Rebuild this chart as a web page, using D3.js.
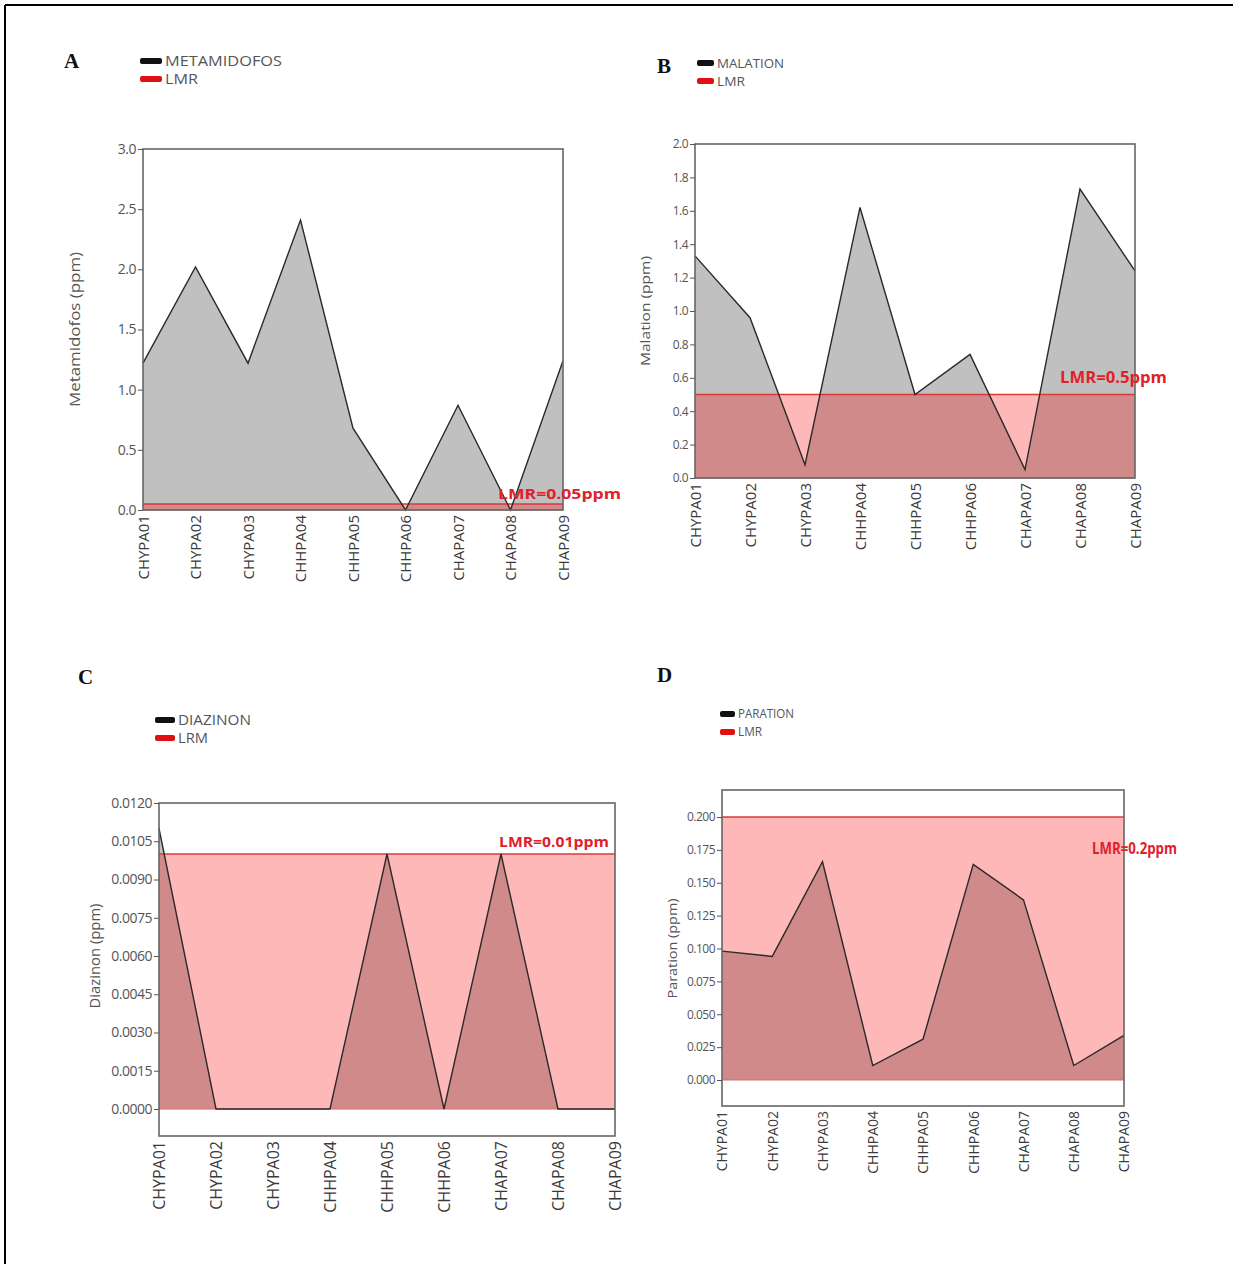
<!DOCTYPE html>
<html>
<head>
<meta charset="utf-8">
<script src="https://cdn.jsdelivr.net/npm/d3@7"></script>
<style>
  body { margin: 0; background: #fff; }
  svg { display: block; }
  .tick text { font-family: "Open Sans", sans-serif; }
  .tick line { stroke: #555; }
</style>
</head>
<body>
<script>
// Data
var categories = ["CHYPA01", "CHYPA02", "CHYPA03", "CHHPA04", "CHHPA05",
                  "CHHPA06", "CHAPA07", "CHAPA08", "CHAPA09"];

var metamidofos = [1.22, 2.02, 1.22, 2.41, 0.68, 0.0, 0.87, 0.0, 1.24];
var malation    = [1.33, 0.96, 0.08, 1.62, 0.50, 0.74, 0.05, 1.73, 1.24];
var diazinon    = [0.011, 0, 0, 0, 0.010, 0, 0.010, 0, 0];
var paration    = [0.098, 0.094, 0.166, 0.011, 0.031, 0.164, 0.137, 0.011, 0.034];

var lmrValues = [0.05, 0.5, 0.01, 0.2];
var lmrLabels = ["LMR=0.05ppm", "LMR=0.5ppm", "LMR=0.01ppm", "LMR=0.2ppm"];

var ticksA = [0, 0.5, 1.0, 1.5, 2.0, 2.5, 3.0];
var ticksB = [0, 0.2, 0.4, 0.6, 0.8, 1.0, 1.2, 1.4, 1.6, 1.8, 2.0];
var ticksC = [0, 0.0015, 0.003, 0.0045, 0.006, 0.0075, 0.009, 0.0105, 0.012];
var ticksD = [0, 0.025, 0.05, 0.075, 0.1, 0.125, 0.15, 0.175, 0.2];

var W = 1233, H = 1264;
var svg = d3.select("body").append("svg").attr("width", W).attr("height", H);

// outer frame
svg.append("line").attr("x1", 5).attr("y1", 5).attr("x2", W).attr("y2", 5)
  .attr("stroke", "#000").attr("stroke-width", 2);
svg.append("line").attr("x1", 5).attr("y1", 5).attr("x2", 5).attr("y2", H)
  .attr("stroke", "#000").attr("stroke-width", 2);

var panels = [
  { letter: "A", lx: 64, ly: 68,
    legend: ["METAMIDOFOS", "LMR"], legLen: [117, 33], legX: 140, legY: 61, legW: 22, legGap: 18, legFont: 15,
    values: metamidofos, lmr: lmrValues[0], lmrText: lmrLabels[0],
    ticks: ticksA, fmt: ".1f", tickFont: 14,
    x0: 143, x1: 563, yTop: 149, yZero: 510, boxTop: 149, boxBottom: 510,
    dom: [0, 3],
    title: "Metamidofos (ppm)", titleLen: 155, titleX: 80, titleFont: 14,
    lmrX: 621, lmrY: 499, lmrFont: 15, lmrW: 123,
    xFont: 15 },
  { letter: "B", lx: 657, ly: 73,
    legend: ["MALATION", "LMR"], legLen: [67, 28], legX: 697, legY: 63, legW: 17, legGap: 18, legFont: 13,
    values: malation, lmr: lmrValues[1], lmrText: lmrLabels[1],
    ticks: ticksB, fmt: ".1f", tickFont: 12,
    x0: 695, x1: 1135, yTop: 144, yZero: 478, boxTop: 144, boxBottom: 478,
    dom: [0, 2],
    title: "Malation (ppm)", titleLen: 110, titleX: 650, titleFont: 12,
    lmrX: 1167, lmrY: 383, lmrFont: 16, lmrW: 107,
    xFont: 15 },
  { letter: "C", lx: 78, ly: 684,
    legend: ["DIAZINON", "LRM"], legLen: [73, 30], legX: 155, legY: 720, legW: 20, legGap: 18, legFont: 14,
    values: diazinon, lmr: lmrValues[2], lmrText: lmrLabels[2],
    ticks: ticksC, fmt: ".4f", tickFont: 14,
    x0: 159, x1: 615, yTop: 803, yZero: 1109, boxTop: 803, boxBottom: 1136,
    dom: [0, 0.012],
    title: "Diazinon (ppm)", titleLen: 105, titleX: 100, titleFont: 14,
    lmrX: 609, lmrY: 847, lmrFont: 14, lmrW: 110,
    xFont: 16 },
  { letter: "D", lx: 657, ly: 682,
    legend: ["PARATION", "LMR"], legLen: [56, 24], legX: 720, legY: 714, legW: 15, legGap: 18, legFont: 12,
    values: paration, lmr: lmrValues[3], lmrText: lmrLabels[3],
    ticks: ticksD, fmt: ".3f", tickFont: 12,
    x0: 722, x1: 1124, yTop: 817, yZero: 1080, boxTop: 790, boxBottom: 1106,
    dom: [0, 0.2],
    title: "Paration (ppm)", titleLen: 100, titleX: 677, titleFont: 12,
    lmrX: 1177, lmrY: 854, lmrFont: 16, lmrW: 85,
    xFont: 14 }
];

panels.forEach(function(p) {
  var g = svg.append("g");

  var x = d3.scalePoint().domain(categories).range([p.x0, p.x1]);
  var y = d3.scaleLinear().domain(p.dom).range([p.yZero, p.yTop]);

  // panel letter
  g.append("text").attr("x", p.lx).attr("y", p.ly)
    .attr("font-family", "Liberation Serif, serif").attr("font-size", 21)
    .attr("font-weight", "bold").attr("fill", "#111").text(p.letter);

  // legend
  var legColors = ["#111", "#e01010"];
  p.legend.forEach(function(name, i) {
    var yy = p.legY + i * p.legGap;
    g.append("rect").attr("x", p.legX).attr("y", yy - 3).attr("width", p.legW).attr("height", 6)
      .attr("rx", 2).attr("fill", legColors[i]);
    g.append("text").attr("x", p.legX + p.legW + 3).attr("y", yy)
      .attr("dy", "0.36em").attr("font-family", "Open Sans, sans-serif")
      .attr("font-size", p.legFont).attr("fill", "#555")
      .attr("textLength", p.legLen[i]).attr("lengthAdjust", "spacingAndGlyphs")
      .text(name);
  });

  var data = p.values.map(function(v, i) { return { c: categories[i], v: v }; });

  // grey area under the series
  var area = d3.area()
    .x(function(d) { return x(d.c); })
    .y0(y(0))
    .y1(function(d) { return y(d.v); });
  g.append("path").datum(data).attr("d", area).attr("fill", "#c0c0c0");

  // LMR band
  g.append("rect").attr("x", p.x0).attr("y", y(p.lmr))
    .attr("width", p.x1 - p.x0).attr("height", y(0) - y(p.lmr))
    .attr("fill", "rgba(255,0,0,0.28)");
  g.append("line").attr("x1", p.x0).attr("x2", p.x1).attr("y1", y(p.lmr)).attr("y2", y(p.lmr))
    .attr("stroke", "#d83a3a").attr("stroke-width", 1.5);
  g.append("line").attr("x1", p.x0).attr("x2", p.x1).attr("y1", y(0)).attr("y2", y(0))
    .attr("stroke", "#d86a6a").attr("stroke-width", 1);

  // series line
  var line = d3.line()
    .x(function(d) { return x(d.c); })
    .y(function(d) { return y(d.v); });
  g.append("path").datum(data).attr("d", line).attr("fill", "none")
    .attr("stroke", "#2a2a2a").attr("stroke-width", 1.4);

  // box
  g.append("rect").attr("x", p.x0).attr("y", p.boxTop)
    .attr("width", p.x1 - p.x0).attr("height", p.boxBottom - p.boxTop)
    .attr("fill", "none").attr("stroke", "#666").attr("stroke-width", 1.6);

  // y axis
  var yAxis = g.append("g").attr("transform", "translate(" + p.x0 + ",0)")
    .call(d3.axisLeft(y).tickValues(p.ticks).tickFormat(d3.format(p.fmt)).tickSize(5).tickPadding(2));
  yAxis.select(".domain").remove();
  yAxis.selectAll(".tick text").attr("font-size", p.tickFont)
    .attr("letter-spacing", -0.5).attr("fill", "#555");

  // x axis
  var xAxis = g.append("g").attr("transform", "translate(0," + p.boxBottom + ")")
    .call(d3.axisBottom(x).tickSize(0).tickPadding(4));
  xAxis.select(".domain").remove();
  xAxis.selectAll(".tick text")
    .attr("font-size", p.xFont)
    .attr("fill", "#3a3a3a")
    .attr("transform", "rotate(-90)")
    .attr("text-anchor", "end")
    .attr("x", -5).attr("y", 0).attr("dy", "0.35em");

  // y title
  g.append("text")
    .attr("transform", "translate(" + p.titleX + "," + ((p.yTop + p.yZero) / 2) + ") rotate(-90)")
    .attr("text-anchor", "middle").attr("font-family", "Open Sans, sans-serif")
    .attr("font-size", p.titleFont).attr("fill", "#555")
    .attr("textLength", p.titleLen).attr("lengthAdjust", "spacingAndGlyphs")
    .text(p.title);

  // LMR label
  g.append("text").attr("x", p.lmrX).attr("y", p.lmrY)
    .attr("text-anchor", "end").attr("font-family", "Open Sans, sans-serif")
    .attr("font-size", p.lmrFont).attr("font-weight", "bold").attr("fill", "#e0202a")
    .attr("textLength", p.lmrW).attr("lengthAdjust", "spacingAndGlyphs")
    .text(p.lmrText);
});
</script>
</body>
</html>
